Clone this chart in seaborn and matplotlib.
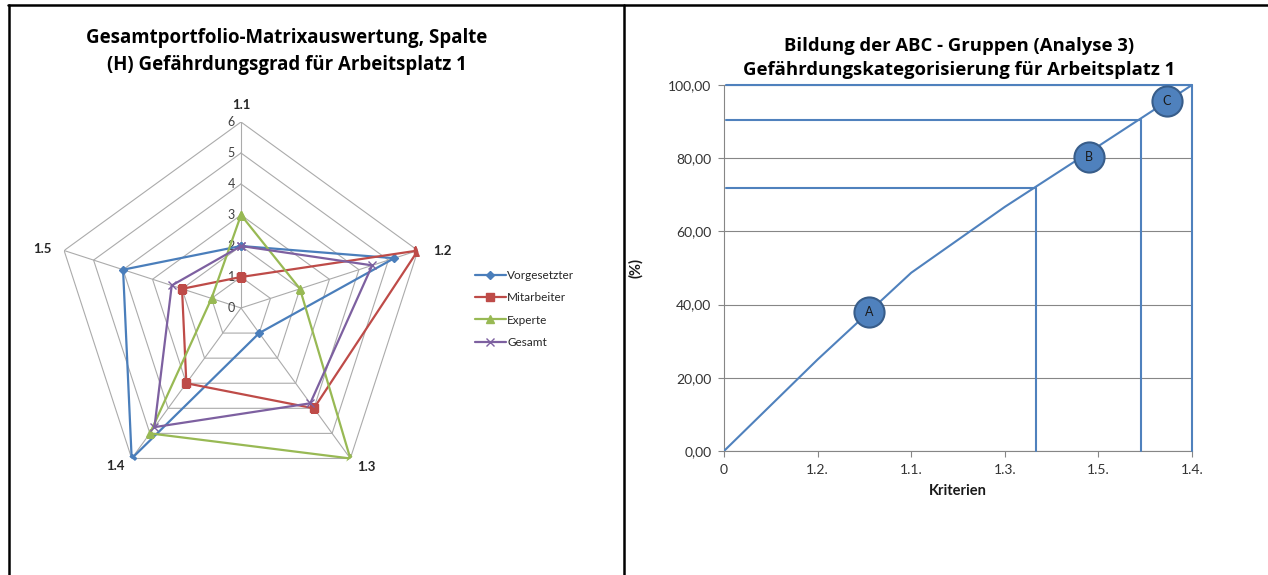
import numpy as np
import pandas as pd
import matplotlib
matplotlib.use("Agg")
import matplotlib.pyplot as plt
from matplotlib.lines import Line2D
import seaborn as sns

# ---------------- data ----------------
criteria = ["1.1", "1.2", "1.3", "1.4", "1.5"]
vorgesetzter = [2, 5.2, 1, 6, 4]
mitarbeiter = [1, 6, 4, 3, 2]
experte = [3, 2, 6, 5, 1]
gesamt = [2, 4.45, 3.8, 4.75, 2.35]
radar_ticks = [0, 1, 2, 3, 4, 5, 6]

abc_labels = ["0", "1.2.", "1.1.", "1.3.", "1.5.", "1.4."]
cum_pct = [0, 25, 48.7, 66.7, 83.3, 100]
boundary_x = [3.33, 4.455, 5.0]
boundary_y = [71.9, 90.4, 100]
group_names = ["A", "B", "C"]
group_x = [1.55, 3.9, 4.73]
group_y = [38, 80.3, 95.6]
y_ticks = [0, 20, 40, 60, 80, 100]

sns.set_theme(style="white")
plt.rcParams["font.family"] = ["Lato", "DejaVu Sans"]
TITLE_FONT = ["Open Sans", "DejaVu Sans"]

W, H = 1268, 575
fig = plt.figure(figsize=(W / 100, H / 100), dpi=100)
fig.patch.set_facecolor("white")

# ---------------- table borders ----------------
bw = 1.8
fig.add_artist(Line2D([8 / W, 1], [1 - 5 / H, 1 - 5 / H], color="black", lw=bw, transform=fig.transFigure))
fig.add_artist(Line2D([9 / W, 9 / W], [0, 1 - 5 / H], color="black", lw=bw, transform=fig.transFigure))
fig.add_artist(Line2D([624 / W, 624 / W], [0, 1 - 5 / H], color="black", lw=bw, transform=fig.transFigure))

# ---------------- radar chart ----------------
cx, cy, R = 241, 308, 186
axr = fig.add_axes([(cx - R) / W, 1 - (cy + R) / H, 2 * R / W, 2 * R / H], projection="polar")
axr.set_theta_offset(np.pi / 2)
axr.set_theta_direction(-1)
axr.set_ylim(0, 6)
axr.grid(False)
axr.spines["polar"].set_visible(False)
axr.set_xticks([])
axr.set_yticks([])
axr.patch.set_alpha(0)

n = len(criteria)
theta = np.arange(n) * 2 * np.pi / n
theta_c = np.append(theta, theta[0])
grid_c = "#ABABAB"
for r in radar_ticks[1:]:
    axr.plot(theta_c, [r] * (n + 1), color=grid_c, lw=0.8, zorder=1)
for t in theta:
    axr.plot([t, t], [0, 6], color=grid_c, lw=0.8, zorder=1)

for r in radar_ticks:
    axr.annotate(str(r), (0, r), xytext=(-6, 0), textcoords="offset pixels",
                 ha="right", va="center", fontsize=9, color="#404040")

label_off = [(0, 17), (24, 0), (16, -9), (-16, -8), (-22, 2)]
for t, lab, off in zip(theta, criteria, label_off):
    axr.annotate(lab, (t, 6), xytext=off, textcoords="offset pixels",
                 ha="center", va="center", fontsize=9.5, fontweight="bold", color="#262626")

series = [
    ("Vorgesetzter", vorgesetzter, "#4A7EBB", "D", 4),
    ("Mitarbeiter", mitarbeiter, "#BE4B48", "s", 6),
    ("Experte", experte, "#98B954", "^", 6),
    ("Gesamt", gesamt, "#7D60A0", "x", 6),
]
handles = []
for name, vals, col, mk, ms in series:
    v = list(vals) + [vals[0]]
    ln, = axr.plot(theta_c, v, color=col, lw=1.6, marker=mk, ms=ms,
                   markeredgecolor=col, markerfacecolor=col, label=name, zorder=3)
    handles.append(ln)

fig.legend(handles=handles, loc="center left", bbox_to_anchor=(469 / W, 1 - 309 / H),
           frameon=False, fontsize=8.5, handlelength=2.6, handletextpad=0.15,
           labelspacing=0.95, borderpad=0)

fig.text(287 / W, 1 - 38 / H, "Gesamtportfolio-Matrixauswertung, Spalte", ha="center", va="center",
         fontsize=13.4, fontweight="bold", color="black", family=TITLE_FONT)
fig.text(287 / W, 1 - 65 / H, "(H) Gefährdungsgrad für Arbeitsplatz 1", ha="center", va="center",
         fontsize=13.4, fontweight="bold", color="black", family=TITLE_FONT)

# ---------------- ABC chart ----------------
L, Rr, T, B = 724, 1192, 85, 451
ax = fig.add_axes([L / W, 1 - B / H, (Rr - L) / W, (B - T) / H])
blue = "#4F81BD"
gray = "#868686"

df = pd.DataFrame({"x": np.arange(len(cum_pct)), "y": cum_pct})
sns.lineplot(data=df, x="x", y="y", ax=ax, color=blue, lw=1.5, sort=False, estimator=None, zorder=3)

for bx, by in zip(boundary_x, boundary_y):
    ax.plot([0.02, bx], [by, by], color=blue, lw=1.5, zorder=3, clip_on=False)
    ax.plot([bx, bx], [0, by], color=blue, lw=1.5, zorder=3, clip_on=False)

gdf = pd.DataFrame({"x": group_x, "y": group_y, "g": group_names})
sns.scatterplot(data=gdf, x="x", y="y", ax=ax, s=470, color=blue, edgecolor="#385D8A",
                linewidth=1.5, zorder=5, legend=False, clip_on=False)
for gx, gy, g in zip(group_x, group_y, group_names):
    ax.text(gx, gy, g, ha="center", va="center", fontsize=9, color="#1a1a1a", zorder=6)

ax.set_xlim(0, 5)
ax.set_ylim(0, 100)
ax.set_xticks(np.arange(len(abc_labels)))
ax.set_xticklabels(abc_labels)
ax.set_yticks(y_ticks)
ax.set_yticklabels([f"{v:.2f}".replace(".", ",") for v in y_ticks])
ax.tick_params(axis="both", which="both", direction="out", length=4, width=0.8, color=gray,
               labelsize=10, labelcolor="#333333", pad=5, left=True, bottom=True)
ax.yaxis.grid(True, color=gray, lw=0.8)
ax.xaxis.grid(False)
ax.set_axisbelow(True)
for s in ["top", "right"]:
    ax.spines[s].set_visible(False)
for s in ["left", "bottom"]:
    ax.spines[s].set_color(gray)
    ax.spines[s].set_linewidth(0.8)
ax.set_xlabel("Kriterien", fontsize=10.5, fontweight="bold", color="#1a1a1a", labelpad=6)
ax.set_ylabel("(%)", fontsize=10.5, fontweight="bold", color="#1a1a1a", labelpad=18)

fig.text(959 / W, 1 - 46 / H, "Bildung der ABC - Gruppen (Analyse 3)", ha="center", va="center",
         fontsize=13.3, fontweight="bold", color="black", family=TITLE_FONT)
fig.text(959 / W, 1 - 70 / H, "Gefährdungskategorisierung für Arbeitsplatz 1", ha="center", va="center",
         fontsize=13.3, fontweight="bold", color="black", family=TITLE_FONT)

fig.savefig("out.png", dpi=100, facecolor="white")
